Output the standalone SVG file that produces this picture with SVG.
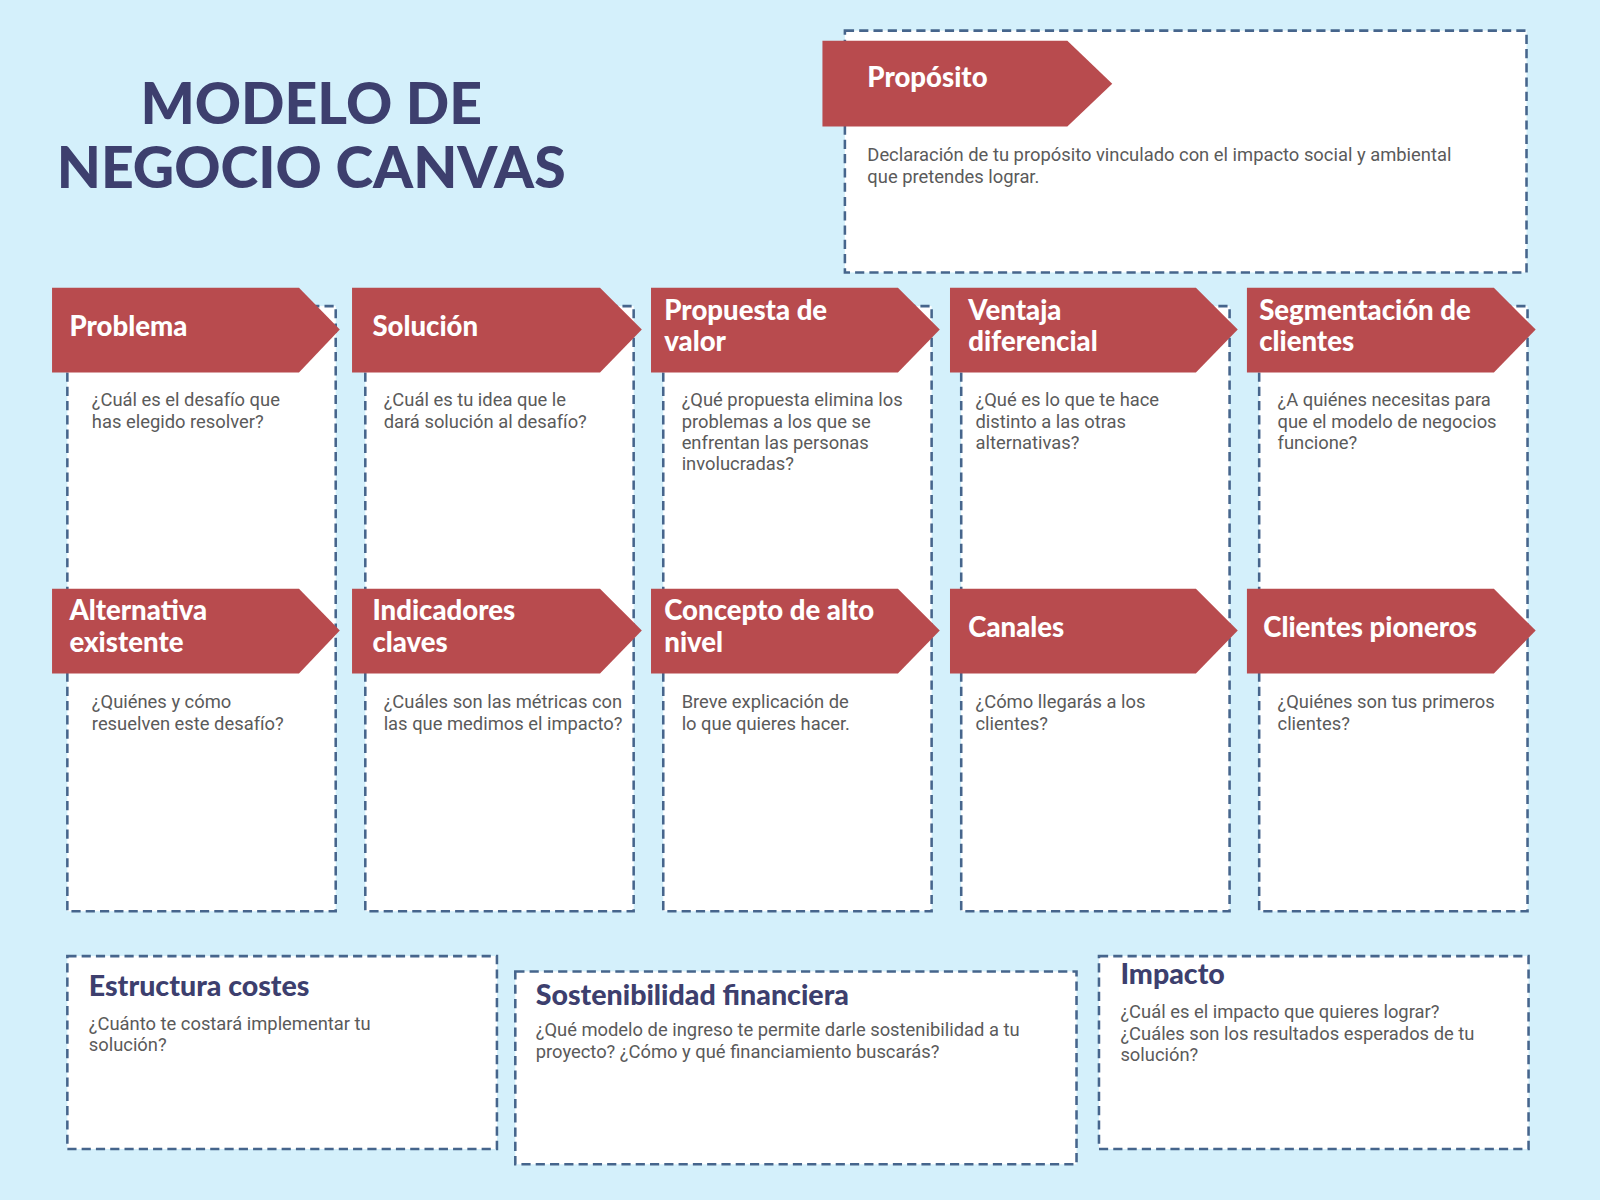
<svg xmlns="http://www.w3.org/2000/svg" width="1600" height="1200" viewBox="0 0 1600 1200">
<style>
.box{fill:#fff;stroke:#46658c;stroke-width:2.5;stroke-dasharray:9 5}
.ban{fill:#b84b4e}
.bt{font-family:Lato,"Liberation Sans",sans-serif;font-weight:900;font-size:27px;fill:#fff}
.d{font-family:Roboto,"Liberation Sans",sans-serif;font-size:18px;fill:#5a5a5a}
.h{font-family:Lato,"Liberation Sans",sans-serif;font-weight:900;font-size:28px;fill:#3d3f6e}
.t{font-family:Lato,"Liberation Sans",sans-serif;font-weight:900;font-size:56px;fill:#3d3f6e;text-anchor:middle}
</style>
<rect width="1600" height="1200" fill="#d4f0fb"/>
<g transform="scale(1.0204)">
<g id="title"><text class="t" x="305" y="122">MODELO DE</text><text class="t" x="305" y="184">NEGOCIO CANVAS</text></g>
<g id="proposito">
<rect class="box" x="828" y="30" width="668" height="237"/>
<path class="ban" d="M806 40H1046L1090 82L1046 124H806Z"/>
<text class="bt" x="850" y="85">Propósito</text>
<text class="d" x="850" y="158">Declaración de tu propósito vinculado con el impacto social y ambiental</text>
<text class="d" x="850" y="179">que pretendes lograr.</text>
</g>
<g id="col1"><rect class="box" x="66" y="300" width="263" height="593"/></g>
<g id="col2"><rect class="box" x="358" y="300" width="263" height="593"/></g>
<g id="col3"><rect class="box" x="650" y="300" width="263" height="593"/></g>
<g id="col4"><rect class="box" x="942" y="300" width="263" height="593"/></g>
<g id="col5"><rect class="box" x="1234" y="300" width="263" height="593"/></g>
<g id="problema"><path class="ban" d="M51 282H293L333 323L293 365H51Z"/><text class="bt" x="68" y="329">Problema</text>
<text class="d" x="90" y="398">¿Cuál es el desafío que</text><text class="d" x="90" y="419">has elegido resolver?</text></g>
<g id="solucion"><path class="ban" d="M345 282H588L629 323L588 365H345Z"/><text class="bt" x="365" y="329">Solución</text>
<text class="d" x="376" y="398">¿Cuál es tu idea que le</text><text class="d" x="376" y="419">dará solución al desafío?</text></g>
<g id="propuesta"><path class="ban" d="M638 282H880L921 323L880 365H638Z"/><text class="bt" x="651" y="314">Propuesta de</text><text class="bt" x="651" y="344">valor</text>
<text class="d" x="668" y="398">¿Qué propuesta elimina los</text><text class="d" x="668" y="419">problemas a los que se</text><text class="d" x="668" y="440">enfrentan las personas</text><text class="d" x="668" y="461">involucradas?</text></g>
<g id="ventaja"><path class="ban" d="M931 282H1172L1213 323L1172 365H931Z"/><text class="bt" x="949" y="314">Ventaja</text><text class="bt" x="949" y="344">diferencial</text>
<text class="d" x="956" y="398">¿Qué es lo que te hace</text><text class="d" x="956" y="419">distinto a las otras</text><text class="d" x="956" y="440">alternativas?</text></g>
<g id="segmentacion"><path class="ban" d="M1222 282H1464L1505 323L1464 365H1222Z"/><text class="bt" x="1234" y="314">Segmentación de</text><text class="bt" x="1234" y="344">clientes</text>
<text class="d" x="1252" y="398">¿A quiénes necesitas para</text><text class="d" x="1252" y="419">que el modelo de negocios</text><text class="d" x="1252" y="440">funcione?</text></g>
<g id="alternativa"><path class="ban" d="M51 577H293L333 618L293 660H51Z"/><text class="bt" x="68" y="608">Alternativa</text><text class="bt" x="68" y="639">existente</text>
<text class="d" x="90" y="694">¿Quiénes y cómo</text><text class="d" x="90" y="715">resuelven este desafío?</text></g>
<g id="indicadores"><path class="ban" d="M345 577H588L629 618L588 660H345Z"/><text class="bt" x="365" y="608">Indicadores</text><text class="bt" x="365" y="639">claves</text>
<text class="d" x="376" y="694">¿Cuáles son las métricas con</text><text class="d" x="376" y="715">las que medimos el impacto?</text></g>
<g id="concepto"><path class="ban" d="M638 577H880L921 618L880 660H638Z"/><text class="bt" x="651" y="608">Concepto de alto</text><text class="bt" x="651" y="639">nivel</text>
<text class="d" x="668" y="694">Breve explicación de</text><text class="d" x="668" y="715">lo que quieres hacer.</text></g>
<g id="canales"><path class="ban" d="M931 577H1172L1213 618L1172 660H931Z"/><text class="bt" x="949" y="624">Canales</text>
<text class="d" x="956" y="694">¿Cómo llegarás a los</text><text class="d" x="956" y="715">clientes?</text></g>
<g id="pioneros"><path class="ban" d="M1222 577H1464L1505 618L1464 660H1222Z"/><text class="bt" x="1238" y="624">Clientes pioneros</text>
<text class="d" x="1252" y="694">¿Quiénes son tus primeros</text><text class="d" x="1252" y="715">clientes?</text></g>
<g id="costes"><rect class="box" x="66" y="937" width="421" height="189"/><text class="h" x="87" y="976">Estructura costes</text>
<text class="d" x="87" y="1009">¿Cuánto te costará implementar tu</text><text class="d" x="87" y="1030">solución?</text></g>
<g id="sostenibilidad"><rect class="box" x="505" y="952" width="550" height="189"/><text class="h" x="525" y="985">Sostenibilidad financiera</text>
<text class="d" x="525" y="1015">¿Qué modelo de ingreso te permite darle sostenibilidad a tu</text><text class="d" x="525" y="1037">proyecto? ¿Cómo y qué financiamiento buscarás?</text></g>
<g id="impacto"><rect class="box" x="1077" y="937" width="421" height="189"/><text class="h" x="1098" y="964">Impacto</text>
<text class="d" x="1098" y="998">¿Cuál es el impacto que quieres lograr?</text><text class="d" x="1098" y="1019">¿Cuáles son los resultados esperados de tu</text><text class="d" x="1098" y="1040">solución?</text></g>
<g id="connectors"/>
</g>
</svg>
